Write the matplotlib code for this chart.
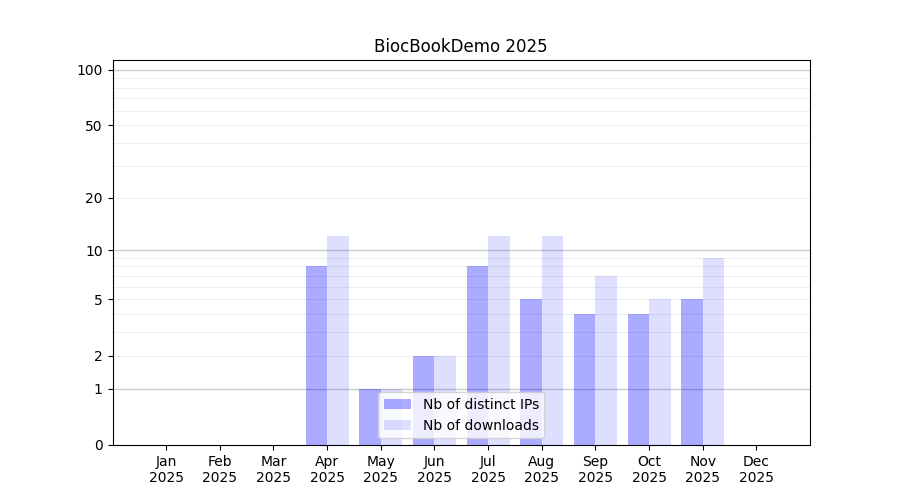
import matplotlib
matplotlib.use("Agg")
import matplotlib.pyplot as plt
import numpy as np

months = ["Jan", "Feb", "Mar", "Apr", "May", "Jun",
          "Jul", "Aug", "Sep", "Oct", "Nov", "Dec"]
year = "2025"
distinct_ips = [0, 0, 0, 8, 1, 2, 8, 5, 4, 4, 5, 0]
downloads = [0, 0, 0, 12, 1, 2, 12, 12, 7, 5, 9, 0]

y_ticks = [0, 1, 2, 5, 10, 20, 50, 100]
major_grid = [1, 10, 100]
minor_grid = [2, 3, 4, 5, 6, 7, 8, 9, 20, 30, 40, 50, 60, 70, 80, 90]

fig, ax = plt.subplots(figsize=(9, 5), dpi=100)

x = np.arange(len(months))
width = 0.4
ax.bar(x - width / 2, distinct_ips, width, color="blue", alpha=0.33,
       label="Nb of distinct IPs")
ax.bar(x + width / 2, downloads, width, color="blue", alpha=0.13,
       label="Nb of downloads")

ax.set_yscale("function", functions=(lambda v: np.log10(1 + np.clip(v, 0, None)),
                                     lambda v: 10 ** v - 1))
ax.set_ylim(0, 113)
ax.set_xlim(-1, 12)

for v in major_grid:
    ax.axhline(v, color="#cccccc", lw=1, zorder=0)
for v in minor_grid:
    ax.axhline(v, color="#eeeeee", lw=0.8, zorder=0)

ax.set_yticks(y_ticks)
ax.set_yticklabels([str(t) for t in y_ticks])
ax.minorticks_off()
ax.set_xticks(x)
ax.set_xticklabels([f"{m}\n{year}" for m in months])

ax.set_title("BiocBookDemo 2025")
ax.legend(loc="lower center")

fig.savefig("out.png", dpi=100)
